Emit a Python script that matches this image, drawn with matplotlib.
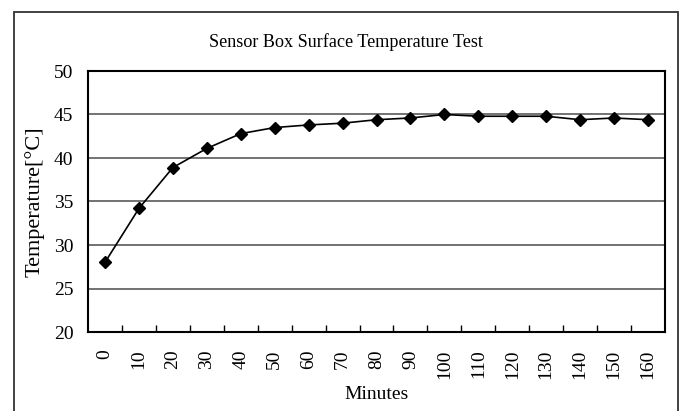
import matplotlib
matplotlib.use("Agg")
import matplotlib.pyplot as plt
from matplotlib.patches import Rectangle

# Surface temperature readings taken every 10 minutes
minutes = ["0", "10", "20", "30", "40", "50", "60", "70", "80",
           "90", "100", "110", "120", "130", "140", "150", "160"]
temperature = [28.0, 34.2, 38.9, 41.1, 42.8, 43.5, 43.8, 44.0, 44.4,
               44.6, 45.0, 44.8, 44.8, 44.8, 44.4, 44.6, 44.4]

title = "Sensor Box Surface Temperature Test"
x_title = "Minutes"
y_title = "Temperature[°C]"
y_ticks = [20, 25, 30, 35, 40, 45, 50]

plt.rcParams["font.family"] = ["Liberation Serif", "DejaVu Serif"]

W, H = 683, 411
fig = plt.figure(figsize=(W / 100, H / 100), dpi=100)
fig.patch.set_facecolor("white")

# chart frame around the whole figure
frame = Rectangle((14 / W, -0.05), (677.5 - 14) / W, 1.05 - 12 / H,
                  transform=fig.transFigure, fill=False,
                  edgecolor="#333333", linewidth=1.3, zorder=0)
fig.add_artist(frame)

left, right, top, bottom = 88, 665, 71, 332
ax = fig.add_axes([left / W, 1 - bottom / H, (right - left) / W, (bottom - top) / H])

x = list(range(len(minutes)))
ax.plot(x, temperature, color="black", linewidth=1.2, marker="D",
        markersize=6, markerfacecolor="black", markeredgecolor="black",
        zorder=3)

ax.set_xlim(-0.5, len(minutes) - 0.5)
ax.set_ylim(20, 50)
ax.set_yticks(y_ticks)
ax.yaxis.grid(True, color="#5a5a5a", linewidth=1.2)
ax.set_axisbelow(True)

ax.set_xticks(x)
ax.set_xticklabels(minutes, rotation=90, fontsize=14)
ax.set_xticks([i + 0.5 for i in range(len(minutes) - 1)], minor=True)
ax.tick_params(axis="x", which="major", length=0, pad=12.5)
ax.tick_params(axis="x", which="minor", direction="in", length=5,
               width=1.0, color="black")
ax.tick_params(axis="y", which="major", length=0, pad=10.5, labelsize=14)

for s in ax.spines.values():
    s.set_linewidth(1.5)
    s.set_color("black")

ax.set_xlabel(x_title, fontsize=14, va="center")
ax.xaxis.set_label_coords(0.5, -0.241)
ax.set_ylabel(y_title, fontsize=16, va="center")
ax.yaxis.set_label_coords(-0.092, 0.5)

fig.text(346 / W, 1 - 47.3 / H, title, ha="center", va="baseline",
         fontsize=13.1)

fig.savefig("out.png", dpi=100, facecolor="white")
